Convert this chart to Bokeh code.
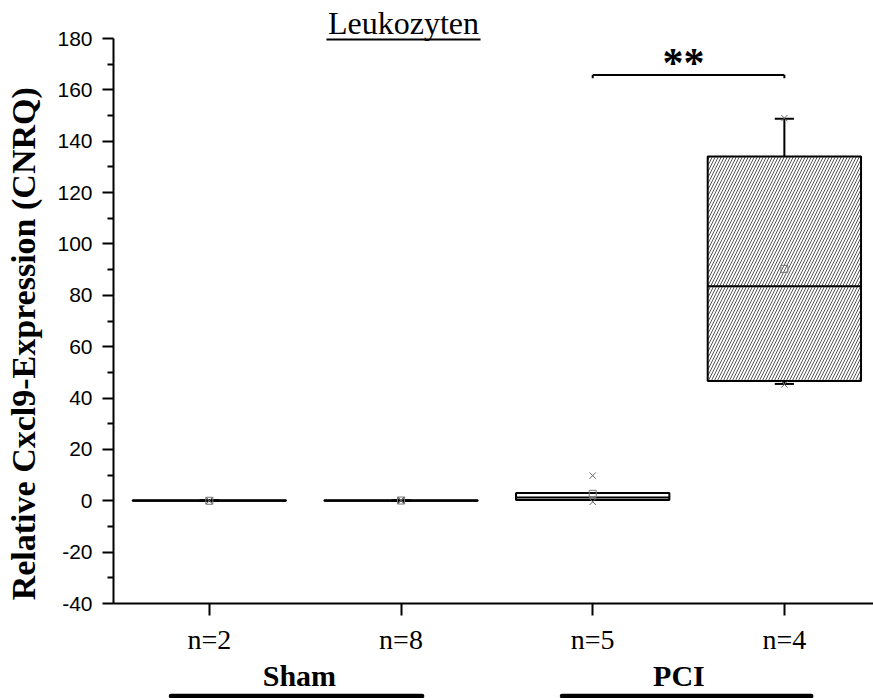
import math
from bokeh.plotting import figure
from bokeh.models import Range1d, FixedTicker, ColumnDataSource
from bokeh.layouts import column, row
from bokeh.embed import file_html
from bokeh.resources import INLINE
from bokeh.core.properties import value

# ---- data ----
x_pos = [1, 2, 3, 4]
n_labels = ["n=2", "n=8", "n=5", "n=4"]
q1 = [0.0, 0.0, 0.3, 46.6]
median = [0.0, 0.0, 1.3, 83.5]
q3 = [0.2, 0.2, 3.0, 134.1]
whisker_low = [0.0, 0.0, 0.3, 45.5]
whisker_high = [0.2, 0.2, 3.0, 148.8]
mean = [0.0, 0.1, 2.7, 90.3]
p_min = [0.0, 0.0, -0.4, 45.3]
p_max = [0.1, 0.3, 9.8, 149.0]
hatch = [" ", " ", " ", "/"]

groups = ["Sham", "PCI"]
group_centers = [1.47, 3.45]
group_start = [0.80, 2.84]
group_end = [2.11, 4.14]

y_ticks = list(range(-40, 181, 20))
y_minor = list(range(-30, 171, 20))

sig_from, sig_to, sig_y, sig_text = 3, 4, 165.8, "**"
title_text = "Leukozyten"
title_x, title_y = 2.013, 186.0
y_label = "Relative Cxcl9-Expression (CNRQ)"

# ---- styling ----
SERIF = "Liberation Serif"
SANS = "Liberation Sans"
BOX_W = 0.8
CAP_W = 0.1
X_END = 4.465
LEFT_W = 50
TOP_H = 657
BOT_H = 41
YLABEL_X = 23
YLABEL_Y = 283

xr = Range1d(0.5, X_END)

# narrow panel carrying the rotated y-axis title
pl = figure(width=LEFT_W, height=TOP_H, x_range=Range1d(0, LEFT_W), y_range=Range1d(0, TOP_H),
            min_border_left=0, min_border_right=0, min_border_top=0, min_border_bottom=0,
            x_axis_location=None, y_axis_location=None, toolbar_location=None,
            output_backend="svg", title=None)
pl.outline_line_color = None
pl.grid.visible = False
pl.text(x=[YLABEL_X], y=[YLABEL_Y], text=[y_label], angle=math.pi / 2,
        text_font=value(SERIF), text_font_style="bold", text_font_size="34px",
        text_align="center", text_baseline="middle", text_color="black")

p = figure(width=873 - LEFT_W, height=TOP_H, x_range=xr, y_range=Range1d(-40, 194.8),
           min_border_left=113 - LEFT_W, min_border_right=0, min_border_top=0,
           min_border_bottom=TOP_H - 607, toolbar_location=None, output_backend="svg",
           title=None)
p.outline_line_color = None
p.grid.visible = False
p.background_fill_color = "white"

# y axis
ya = p.yaxis[0]
ya.ticker = FixedTicker(ticks=y_ticks, minor_ticks=y_minor)
ya.major_label_overrides = {t: str(t) for t in y_ticks}
ya.bounds = (-40, 180)
ya.axis_line_width = 2
ya.major_tick_line_width = 2
ya.minor_tick_line_width = 2
ya.major_tick_out = 11
ya.major_tick_in = 0
ya.minor_tick_out = 6
ya.minor_tick_in = 0
ya.major_label_standoff = 10
ya.major_label_text_font = SANS
ya.major_label_text_font_size = "21px"
ya.major_label_text_color = "black"

# x axis
xa = p.xaxis[0]
xa.ticker = FixedTicker(ticks=x_pos, minor_ticks=[])
xa.major_label_overrides = {x: lab for x, lab in zip(x_pos, n_labels)}
xa.bounds = (0.5, X_END)
xa.axis_line_width = 2
xa.major_tick_line_width = 2
xa.major_tick_out = 12
xa.major_tick_in = 0
xa.minor_tick_out = 0
xa.minor_tick_in = 0
xa.major_label_standoff = 8
xa.major_label_text_font = SERIF
xa.major_label_text_font_size = "28px"
xa.major_label_text_color = "black"

src = ColumnDataSource(dict(
    x=x_pos, q1=q1, med=median, q3=q3, wl=whisker_low, wh=whisker_high,
    mean=mean, pmin=p_min, pmax=p_max, hatch=hatch,
    xl=[x - BOX_W / 2 for x in x_pos], xr=[x + BOX_W / 2 for x in x_pos],
    cl=[x - CAP_W / 2 for x in x_pos], cr=[x + CAP_W / 2 for x in x_pos],
))

# whiskers
p.segment(x0="x", y0="q3", x1="x", y1="wh", source=src, line_color="black", line_width=2)
p.segment(x0="x", y0="q1", x1="x", y1="wl", source=src, line_color="black", line_width=2)
p.segment(x0="cl", y0="wh", x1="cr", y1="wh", source=src, line_color="black", line_width=2)
p.segment(x0="cl", y0="wl", x1="cr", y1="wl", source=src, line_color="black", line_width=2)

# boxes
p.vbar(x="x", width=BOX_W, bottom="q1", top="q3", source=src,
       fill_color="white", line_color="black", line_width=2,
       hatch_pattern="hatch", hatch_color="#555555", hatch_scale=6, hatch_weight=1)
# median
p.segment(x0="xl", y0="med", x1="xr", y1="med", source=src, line_color="black", line_width=2)

# mean and extremes
p.scatter(x="x", y="mean", source=src, marker="square", size=7,
          fill_color=None, line_color="#777777", line_width=1)
p.scatter(x="x", y="pmin", source=src, marker="x", size=9, line_color="#666666", line_width=1)
p.scatter(x="x", y="pmax", source=src, marker="x", size=9, line_color="#666666", line_width=1)

# significance bracket
p.segment(x0=[sig_from], y0=[sig_y], x1=[sig_to], y1=[sig_y], line_color="black", line_width=2)
p.segment(x0=[sig_from, sig_to], y0=[sig_y, sig_y], x1=[sig_from, sig_to],
          y1=[sig_y - 1.3, sig_y - 1.3], line_color="black", line_width=2)
p.text(x=[(sig_from + sig_to) / 2 - 0.026], y=[sig_y + 4.6], text=[sig_text],
       text_font=value(SERIF), text_font_style="bold", text_font_size="42px",
       text_align="center", text_baseline="middle", text_color="black")

# title with underline
p.text(x=[title_x], y=[title_y], text=[title_text], text_font=value(SERIF),
       text_font_size="32px", text_align="center", text_baseline="middle",
       text_color="black")
p.segment(x0=[title_x - 0.402], y0=[179.6], x1=[title_x + 0.402], y1=[179.6],
          line_color="black", line_width=2)

# ---- group labels below ----
p2 = figure(width=873, height=BOT_H, x_range=xr, y_range=Range1d(0, BOT_H),
            min_border_left=113, min_border_right=0, min_border_top=0,
            min_border_bottom=0, x_axis_location=None, y_axis_location=None,
            toolbar_location=None, output_backend="svg", title=None)
p2.outline_line_color = None
p2.grid.visible = False
p2.text(x=group_centers, y=[23] * len(groups), text=groups, text_font=value(SERIF),
        text_font_style="bold", text_font_size="30px", text_align="center",
        text_baseline="middle", text_color="black")
p2.segment(x0=group_start, y0=[2.5] * len(groups), x1=group_end, y1=[2.5] * len(groups),
           line_color="black", line_width=4.5, line_cap="round")

layout = column(row(pl, p, spacing=0), p2, spacing=0)
open("out.html", "w").write(file_html(layout, INLINE))
